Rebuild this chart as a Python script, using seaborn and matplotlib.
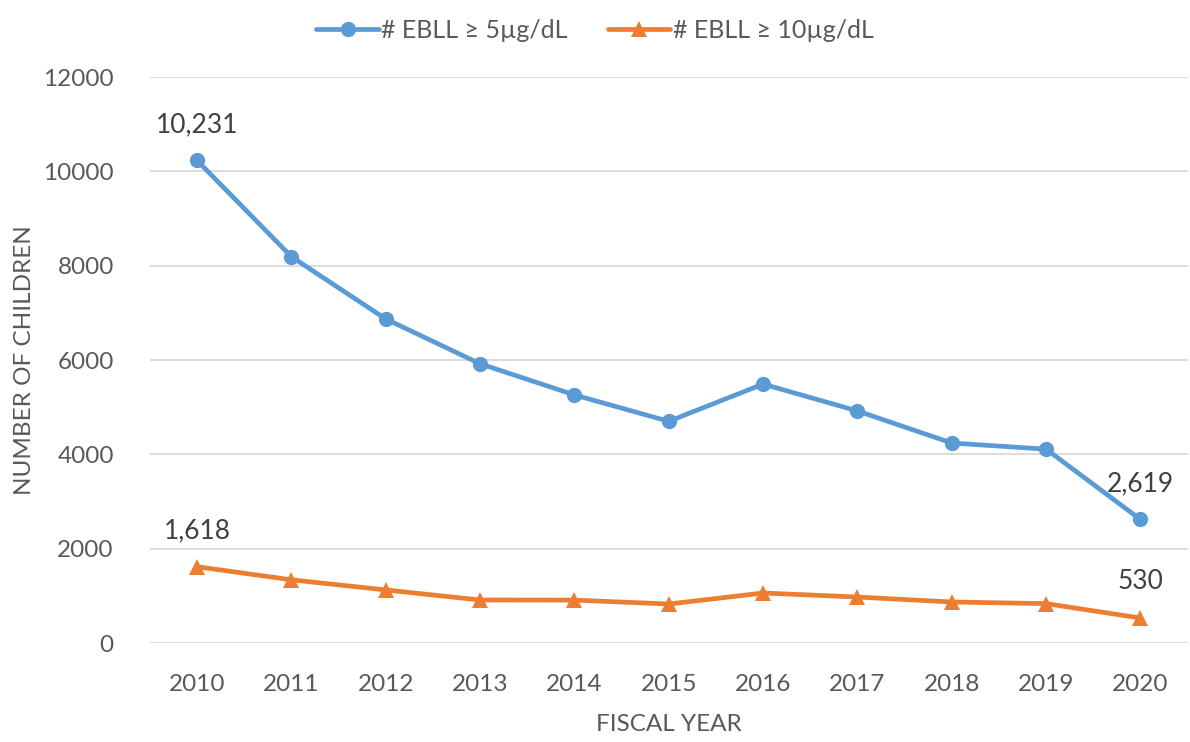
import pandas as pd
import seaborn as sns
import matplotlib.pyplot as plt

years = [2010, 2011, 2012, 2013, 2014, 2015, 2016, 2017, 2018, 2019, 2020]
ebll_5 = [10231, 8190, 6870, 5920, 5260, 4700, 5490, 4920, 4240, 4110, 2619]
ebll_10 = [1618, 1340, 1125, 912, 910, 827, 1060, 975, 870, 835, 530]
series_names = ["# EBLL ≥ 5µg/dL", "# EBLL ≥ 10µg/dL"]

df = pd.DataFrame({
    "year": years * 2,
    "count": ebll_5 + ebll_10,
    "series": [series_names[0]] * len(years) + [series_names[1]] * len(years),
})

sns.set_theme(style="white")
plt.rcParams["font.family"] = ["Lato", "DejaVu Sans"]

text_color = "#595959"
fig = plt.figure(figsize=(11.9, 7.42), dpi=100)
ax = fig.add_axes([0.126, 0.1334, 0.872, 0.7628])

sns.lineplot(data=df, x="year", y="count", hue="series", style="series",
             palette=["#5B9BD5", "#ED7D31"], markers=["o", "^"], dashes=False,
             linewidth=3.4, markersize=11, markeredgewidth=0, ax=ax)

ax.set_xlim(2009.5, 2020.5)
ax.set_ylim(0, 12000)
ax.set_yticks(range(0, 12001, 2000))
ax.set_xticks(years)
ax.yaxis.grid(True, color="#D9D9D9", linewidth=1.3)
ax.set_axisbelow(True)
for s in ax.spines.values():
    s.set_visible(False)
ax.tick_params(axis="both", colors=text_color, labelsize=17.5, length=0)
ax.tick_params(axis="x", pad=22)
ax.tick_params(axis="y", pad=26)

ax.set_xlabel("FISCAL YEAR", color=text_color, fontsize=17.5, labelpad=14)
ax.set_ylabel("NUMBER OF CHILDREN", color=text_color, fontsize=17.5, labelpad=6)

# data labels on first and last points
for vals in [ebll_5, ebll_10]:
    for i in (0, -1):
        ax.annotate(f"{vals[i]:,}", (years[i], vals[i]), xytext=(0, 17),
                    textcoords="offset points", ha="center", va="bottom",
                    fontsize=19, color="#404040")

handles, labels = ax.get_legend_handles_labels()
ax.get_legend().remove()
fig.legend(handles, labels, loc="upper center", bbox_to_anchor=(0.5, 1.005),
           ncol=2, frameon=False, fontsize=18, labelcolor=text_color,
           handlelength=2.5, handletextpad=0.1, columnspacing=1.6)

fig.savefig("out.png", dpi=100)
